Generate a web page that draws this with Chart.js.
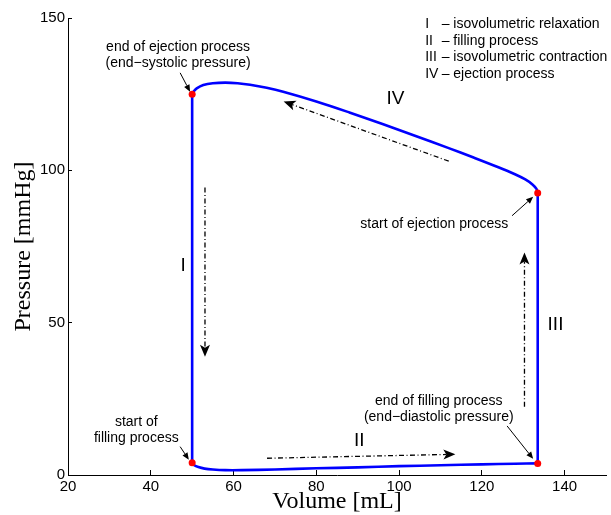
<!DOCTYPE html>
<html>
<head>
<meta charset="utf-8">
<script src="https://cdn.jsdelivr.net/npm/chart.js@4.4.0/dist/chart.umd.min.js"></script>
<style>
  html, body { margin: 0; padding: 0; background: #fff; }
</style>
</head>
<body>
<canvas id="pvChart" width="611" height="515"></canvas>
<script>
// Left ventricle pressure-volume loop
var loopVolume = [50, 50, 50.5, 51.5, 53, 55, 58, 62, 70, 80, 90, 100, 110, 120, 128, 133.5,
                  133.5, 133.2, 132.3, 130.5, 128, 124, 118, 112, 104, 96, 88, 80, 72, 68, 64, 61, 58, 55, 52.7, 51.1, 50.3, 50];
var loopPressure = [125, 4, 3.2, 2.6, 2.1, 1.8, 1.6, 1.6, 1.8, 2.2, 2.5, 2.9, 3.2, 3.5, 3.7, 3.8,
                    92.6, 93.9, 95.3, 97, 98.7, 101, 104.2, 107.3, 111.3, 115.2, 119, 122.6, 125.8, 127.1, 128.1, 128.6, 128.8, 128.6, 128, 126.9, 125.8, 125];
// where each phase starts and ends in the loop arrays: I, II, III, IV
var phaseSpan = [[0, 1], [1, 15], [15, 16], [16, 37]];

// the four valve events (red dots)
var eventVolume = [50, 50, 133.5, 133.5];
var eventPressure = [125, 4, 3.8, 92.6];

var xTicks = [20, 40, 60, 80, 100, 120, 140];
var yTicks = [0, 50, 100, 150];

var phaseNames = ['I', 'II', 'III', 'IV'];
var phaseDescriptions = ['isovolumetric relaxation', 'filling process', 'isovolumetric contraction', 'ejection process'];

// annotation placement, in axis units
var phaseLabelAt = [[47.8, 68.6], [90.4, 11.2], [137.8, 49.2], [99.1, 123.4]];
var phaseArrows = [            // from vol, from p, to vol, to p
  [53.1, 94.4, 53.1, 38.8],
  [68.1, 5.5, 113.6, 6.8],
  [130.3, 22.4, 130.3, 73],
  [112, 103, 72.1, 122.6]
];
var notes = [
  { lines: ['end of ejection process', '(end\u2212systolic pressure)'], at: [46.6, 140.5], arrow: [47.1, 132, 49.5, 125.8] },
  { lines: ['start of ejection process'], at: [108.5, 82.4], arrow: [127.3, 85.1, 132.4, 91.3] },
  { lines: ['end of filling process', '(end\u2212diastolic pressure)'], at: [109.6, 24.1], arrow: [126.1, 16.1, 132.4, 5.3] },
  { lines: ['start of', 'filling process'], at: [36.5, 17.5], arrow: [47.1, 9.3, 49.2, 5.0] }
];
var keyAt = [106.3, 148];

var SANS = "'Liberation Sans', Arial, Helvetica, sans-serif";
var SERIF = "'Liberation Serif', 'Times New Roman', serif";

function pointsOf(a, b) {
  var out = [];
  for (var i = a; i <= b; i++) out.push({ x: loopVolume[i], y: loopPressure[i] });
  return out;
}
var eventPoints = eventVolume.map(function (v, i) { return { x: v, y: eventPressure[i] }; });

function drawHead(ctx, x0, y0, x1, y1, len, half, notch) {
  var ang = Math.atan2(y1 - y0, x1 - x0);
  ctx.save();
  ctx.translate(x1, y1);
  ctx.rotate(ang);
  ctx.beginPath();
  ctx.moveTo(0, 0);
  ctx.lineTo(-len, -half);
  ctx.lineTo(-len + notch, 0);
  ctx.lineTo(-len, half);
  ctx.closePath();
  ctx.fill();
  ctx.restore();
}

function drawArrow(ctx, x0, y0, x1, y1, len, half, notch, dash, width) {
  var d = Math.hypot(x1 - x0, y1 - y0);
  var k = (d - len + notch) / d;
  ctx.save();
  ctx.setLineDash(dash);
  ctx.lineWidth = width;
  ctx.beginPath();
  ctx.moveTo(x0, y0);
  ctx.lineTo(x0 + (x1 - x0) * k, y0 + (y1 - y0) * k);
  ctx.stroke();
  ctx.restore();
  drawHead(ctx, x0, y0, x1, y1, len, half, notch);
}

var annotate = {
  id: 'annotate',
  afterDatasetsDraw: function (chart) {
    var ctx = chart.ctx;
    var xs = chart.scales.x, ys = chart.scales.y;
    var px = function (v) { return xs.getPixelForValue(v); };
    var py = function (v) { return ys.getPixelForValue(v); };
    ctx.save();
    ctx.fillStyle = '#000';
    ctx.strokeStyle = '#000';

    // dash-dot process arrows
    phaseArrows.forEach(function (a) {
      drawArrow(ctx, px(a[0]), py(a[1]), px(a[2]), py(a[3]), 12, 5, 3, [5, 2.5, 1, 2.5], 1.3);
    });

    // roman numerals
    ctx.font = '19px ' + SANS;
    ctx.textAlign = 'center';
    ctx.textBaseline = 'middle';
    phaseNames.forEach(function (n, i) {
      ctx.fillText(n, px(phaseLabelAt[i][0]), py(phaseLabelAt[i][1]));
    });

    // callouts
    ctx.font = '14px ' + SANS;
    notes.forEach(function (n) {
      n.lines.forEach(function (t, j) {
        ctx.fillText(t, px(n.at[0]), py(n.at[1]) + j * 16);
      });
      var a = n.arrow;
      drawArrow(ctx, px(a[0]), py(a[1]), px(a[2]), py(a[3]), 7, 3, 0, [], 1);
    });

    // phase key, top right
    ctx.textAlign = 'left';
    phaseNames.forEach(function (n, i) {
      var yy = py(keyAt[1]) + i * 16.6;
      ctx.fillText(n, px(keyAt[0]), yy);
      ctx.fillText('\u2013 ' + phaseDescriptions[i], px(keyAt[0]) + 16.5, yy);
    });
    ctx.restore();
  }
};

var loopSets = phaseSpan.map(function (s, i) {
  return {
    data: pointsOf(s[0], s[1]), order: 1, showLine: true, borderColor: '#0000ff', borderWidth: 2.6,
    pointRadius: 0, fill: false, tension: (i % 2 === 1) ? 0.35 : 0, borderCapStyle: 'round'
  };
});

new Chart(document.getElementById('pvChart'), {
  type: 'scatter',
  data: {
    datasets: [
      { data: eventPoints, order: 0, pointRadius: 3.5, pointBackgroundColor: '#ff0000', pointBorderWidth: 0, showLine: false }
    ].concat(loopSets)
  },
  options: {
    responsive: false,
    animation: false,
    devicePixelRatio: 1,
    layout: { padding: { left: 0, top: 18, right: 5, bottom: 0 } },
    plugins: { legend: { display: false }, tooltip: { enabled: false } },
    scales: {
      x: {
        type: 'linear', position: 'bottom', min: 20, max: 150,
        afterBuildTicks: function (s) { s.ticks = xTicks.map(function (v) { return { value: v }; }); },
        afterFit: function (s) { s.height = 40; },
        grid: { display: true, drawOnChartArea: false, drawTicks: true, tickLength: -5, color: '#000' },
        border: { display: true, color: '#000', width: 1 },
        ticks: { padding: 8, color: '#000', font: { family: SANS, size: 15 }, maxRotation: 0, autoSkip: false },
        title: { display: true, text: 'Volume [mL]', color: '#000', font: { family: SERIF, size: 24 }, padding: { top: 0, bottom: -1 } }
      },
      y: {
        type: 'linear', position: 'left', min: 0, max: 150,
        afterBuildTicks: function (s) { s.ticks = yTicks.map(function (v) { return { value: v }; }); },
        afterFit: function (s) { s.width = 68; },
        grid: { display: true, drawOnChartArea: false, drawTicks: true, tickLength: -4, color: '#000' },
        border: { display: true, color: '#000', width: 1 },
        ticks: { padding: 7, color: '#000', font: { family: SANS, size: 15 } },
        title: { display: true, text: 'Pressure [mmHg]', color: '#000', font: { family: SERIF, size: 24 }, padding: { top: 9, bottom: 0 } }
      }
    }
  },
  plugins: [annotate]
});
</script>
</body>
</html>
